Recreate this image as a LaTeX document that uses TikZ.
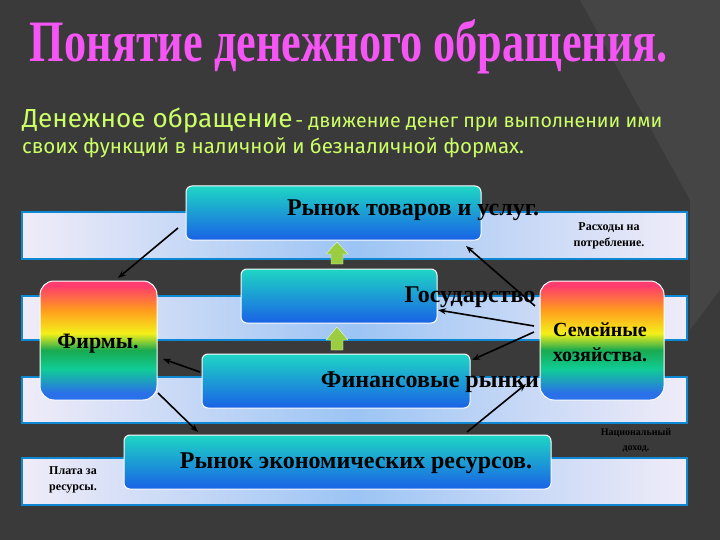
\documentclass[tikz,border=0pt]{standalone}
\usepackage{fontspec}
\setmainfont{Liberation Serif}
\newfontfamily\subfont{Fira Sans}
\usetikzlibrary{arrows.meta}
\definecolor{bg}{HTML}{3A3A3A}
\definecolor{ttl}{HTML}{F455F4}
\definecolor{sub}{HTML}{CCFF66}
\definecolor{bxT}{HTML}{1ED6C4}
\definecolor{bxB}{HTML}{1A62E6}
\definecolor{bandE}{HTML}{F0ECF8}
\definecolor{bandM}{HTML}{9CC4F4}
\definecolor{garr}{HTML}{9ACD40}
\definecolor{rbR}{HTML}{FF3C6E}
\definecolor{rbO}{HTML}{FF9A1E}
\definecolor{rbY}{HTML}{F4F01A}
\definecolor{rbG}{HTML}{1AAA50}
\definecolor{rbB}{HTML}{2A70E8}
\pgfdeclareverticalshading{rainbow}{100bp}{color(0bp)=(rbB); color(28bp)=(rbB); color(38bp)=(rbG!60!cyan); color(46bp)=(rbG); color(53bp)=(rbY); color(63bp)=(rbO); color(73bp)=(rbR); color(100bp)=(rbR)}
\tikzset{
 band/.style={draw=cyan!70!blue, line width=1.2pt, left color=bandE, right color=bandE, middle color=bandM, shading angle=90},
 mbox/.style={draw=white, line width=1pt, rounded corners=6pt, top color=bxT, bottom color=bxB},
 rbox/.style={draw=white, line width=1pt, rounded corners=14pt, shading=rainbow},
 lbl/.style={font=\bfseries\fontsize{24}{26}\selectfont, text=black},
 sm/.style={font=\bfseries\fontsize{12}{16}\selectfont, align=center, text=black},
 arr/.style={-{Stealth[length=8pt,width=6pt]}, line width=1.6pt, black},
}
\begin{document}
\begin{tikzpicture}[x=1pt,y=-1pt]
\useasboundingbox (0,0) rectangle (720,540);
\fill[bg] (0,0) rectangle (720,540);
\fill[white,opacity=0.06] (580,0) -- (720,0) -- (720,540) -- (690,540) -- (690,200) -- cycle;
\fill[black,opacity=0.15] (690,330) -- (720,290) -- (720,540) -- (690,540) -- cycle;
% title
\node[text=ttl, anchor=base] (title) at (349,62) {\resizebox{638pt}{42pt}{\bfseries Понятие денежного обращения.}};
\node[anchor=base west, text=sub, inner sep=0] (sub1) at (22,128) {\resizebox{640pt}{!}{\subfont{\fontsize{24}{26}\selectfont Денежное обращение} \fontsize{18}{20}\selectfont - движение денег при выполнении ими}};
\node[anchor=base west, text=sub, inner sep=0] (sub2) at (22,154) {\subfont\fontsize{20.5}{22}\selectfont своих функций в наличной и безналичной формах.};
% bands
\path[band] (22,212) rectangle (687,259);
\path[band] (22,296) rectangle (687,340);
\path[band] (22,377) rectangle (687,423);
\path[band] (22,458) rectangle (687,505);
% boxes
\path[mbox] (186,186) rectangle (481,240);
\node[lbl] (t1) at (413,210) {Рынок товаров и услуг.};
\path[mbox] (241,269) rectangle (437,323);
\node[lbl] (t2) at (470,297) {Государство};
\path[mbox] (202,354) rectangle (470,408);
\node[lbl] (t3) at (430,382) {Финансовые рынки};
\path[mbox] (124,435) rectangle (551,489);
\node[lbl] (t4) at (356,463) {Рынок экономических ресурсов.};
\path[rbox] (40,281) rectangle (157,400);
\node[lbl, font=\bfseries\fontsize{22}{24}\selectfont] (f) at (98,344) {Фирмы.};
\path[rbox] (540,281) rectangle (664,400);
\node[lbl, align=center, font=\bfseries\fontsize{20}{25}\selectfont] (h) at (600,342) {Семейные\\хозяйства.};
% small labels
\node[sm] (s1) at (609,236) {Расходы на\\потребление.};
\node[sm, font=\bfseries\fontsize{10}{15}\selectfont, text=black] (s2) at (636,440) {Национальный\\доход.};
\node[sm] (s3) at (73,480) {Плата за\\ресурсы.};
% green arrows
\fill[garr, draw=white!80!garr] (331,264) -- (331,254) -- (326,254) -- (337,242) -- (348,254) -- (343,254) -- (343,264) -- cycle;
\fill[garr, draw=white!80!garr] (331,350) -- (331,340) -- (326,340) -- (337,327) -- (348,340) -- (343,340) -- (343,350) -- cycle;
% connectors
\coordinate (a1s) at (178,228); \coordinate (a1e) at (118,278);
\coordinate (a2s) at (535,306); \coordinate (a2e) at (466,246);
\coordinate (a3s) at (534,326); \coordinate (a3e) at (438,310);
\coordinate (a4s) at (534,332); \coordinate (a4e) at (472,360);
\coordinate (a5s) at (200,372); \coordinate (a5e) at (163,359);
\coordinate (a6s) at (158,393); \coordinate (a6e) at (198,432);
\coordinate (a7s) at (467,432); \coordinate (a7e) at (526,384);
\draw[arr] (a1s) -- (a1e);
\draw[arr] (a2s) -- (a2e);
\draw[arr] (a3s) -- (a3e);
\draw[arr] (a4s) -- (a4e);
\draw[arr] (a5s) -- (a5e);
\draw[arr] (a6s) -- (a6e);
\draw[arr] (a7s) -- (a7e);
\end{tikzpicture}
\end{document}
